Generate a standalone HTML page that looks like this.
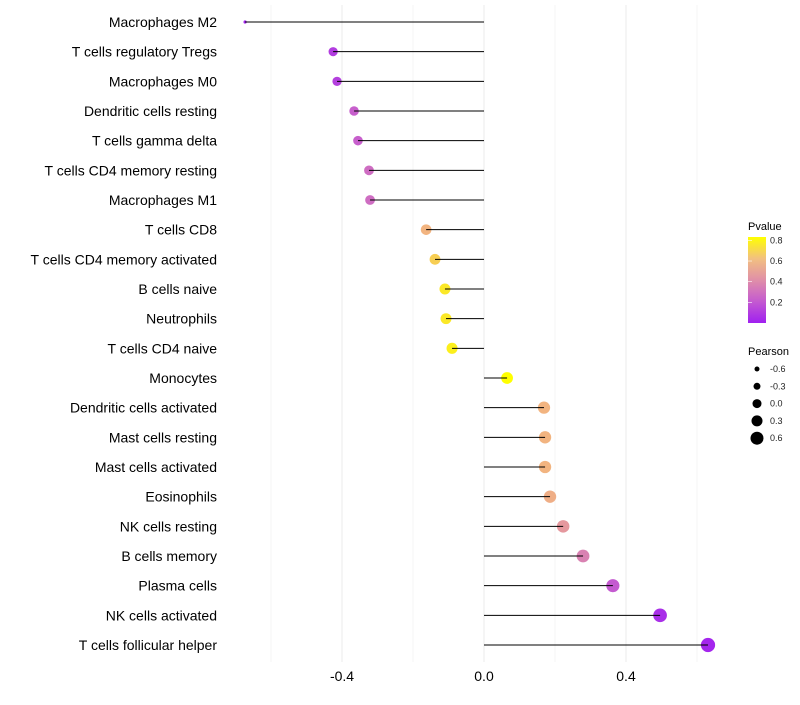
<!DOCTYPE html>
<html><head><meta charset="utf-8"><style>
body{margin:0;background:#fff;font-family:"Liberation Sans",sans-serif}
svg text{font-family:"Liberation Sans",sans-serif}
</style></head><body>
<svg id="chart" width="800" height="700">
<defs><linearGradient id="pg" x1="0" y1="1" x2="0" y2="0">
<stop offset="0" stop-color="#a020f0"/><stop offset="0.25" stop-color="#c45ad0"/>
<stop offset="0.5" stop-color="#e08fa8"/><stop offset="0.75" stop-color="#f2c080"/>
<stop offset="1" stop-color="#ffff00"/></linearGradient></defs>
<g id="grid"></g><g id="dots"></g><g id="marks"></g><g id="labels"></g>
<g>
<text x="748" y="230" font-size="11">Pvalue</text>
<rect x="748" y="237" width="18" height="86" fill="url(#pg)"/>
<g id="cbticks"></g>
</g>
<g id="sizeleg">
<text x="748" y="355" font-size="11">Pearson</text>
</g>
</svg>
<script>
const cells=["Macrophages M2","T cells regulatory  Tregs","Macrophages M0","Dendritic cells resting","T cells gamma delta","T cells CD4 memory resting","Macrophages M1","T cells CD8","T cells CD4 memory activated","B cells naive","Neutrophils","T cells CD4 naive","Monocytes","Dendritic cells activated","Mast cells resting","Mast cells activated","Eosinophils","NK cells resting","B cells memory","Plasma cells","NK cells activated","T cells follicular helper"];
const pearson=[-0.673,-0.425,-0.414,-0.366,-0.355,-0.324,-0.321,-0.163,-0.138,-0.110,-0.107,-0.090,0.065,0.169,0.172,0.172,0.186,0.223,0.279,0.363,0.496,0.631];
const pvalue=[0.01,0.1,0.11,0.22,0.22,0.27,0.27,0.6,0.68,0.76,0.76,0.78,0.83,0.6,0.6,0.6,0.57,0.45,0.35,0.2,0.05,0.02];
const xTicks=[-0.4,0,0.4];
const xTickLabels=["-0.4","0.0","0.4"];
const cbTicks=[0.2,0.4,0.6,0.8];
const sizeTicks=[-0.6,-0.3,0,0.3,0.6];
const sizeTickLabels=["-0.6","-0.3","0.0","0.3","0.6"];
const NS="http://www.w3.org/2000/svg";
const x=v=>484+v*355;
const y=i=>22+i*(623/21);
const r=v=>v<-0.6?1.6:Math.sqrt(Math.max(2.5,33+28*v));
const stops=[[0,[160,32,240]],[0.2,[196,90,208]],[0.4,[224,143,168]],[0.6,[242,180,128]],[0.83,[255,255,0]]];
function col(p){p=Math.max(0,Math.min(0.83,p));for(let k=1;k<stops.length;k++){if(p<=stops[k][0]){const a=stops[k-1],b=stops[k],t=(p-a[0])/(b[0]-a[0]);return "rgb("+a[1].map((c,j)=>Math.round(c+(b[1][j]-c)*t)).join(",")+")";}}return "rgb(255,255,0)";}
function mk(t,a,parent){const e=document.createElementNS(NS,t);for(const k in a)e.setAttribute(k,a[k]);document.getElementById(parent).appendChild(e);return e;}
[-0.6,-0.2,0.2,0.6].forEach(v=>{const l=mk("line",{x1:x(v),x2:x(v),y1:5,y2:662,stroke:"#f4f4f4","stroke-width":1},"grid");

});
xTicks.forEach((v,i)=>{const l=mk("line",{x1:x(v),x2:x(v),y1:5,y2:662,stroke:"#ebebeb","stroke-width":1},"grid");


const t=mk("text",{x:x(v),y:681,"font-size":14,"text-anchor":"middle",fill:"#000"},"labels");t.textContent=xTickLabels[i];

});
cells.forEach((c,i)=>{
const d=mk("circle",{cx:x(pearson[i]),cy:y(i),r:r(pearson[i]),fill:col(pvalue[i])},"dots");


const l=mk("line",{x1:x(0),x2:x(pearson[i]),y1:y(i),y2:y(i),stroke:"#000","stroke-width":1},"marks");


const t=mk("text",{x:217,y:y(i)+5,"font-size":14,"text-anchor":"end",fill:"#000"},"labels");t.textContent=c;

});
cbTicks.forEach(v=>{const yy=323-v*103.3;
const t=mk("text",{x:770,y:yy+3,"font-size":9,fill:"#222"},"cbticks");t.textContent=v.toFixed(1);


const l=mk("line",{x1:748,x2:752,y1:yy,y2:yy,stroke:"#fff","stroke-width":0.6},"cbticks");

});
const legR=[2.5,3.5,4.5,5.5,6.5];
sizeTicks.forEach((v,i)=>{const yy=369+i*17.3;
const c=mk("circle",{cx:757,cy:yy,r:legR[i],fill:"#000"},"sizeleg");


const t=mk("text",{x:770,y:yy+3,"font-size":9,fill:"#222"},"sizeleg");t.textContent=sizeTickLabels[i];

});
</script>
</body></html>
